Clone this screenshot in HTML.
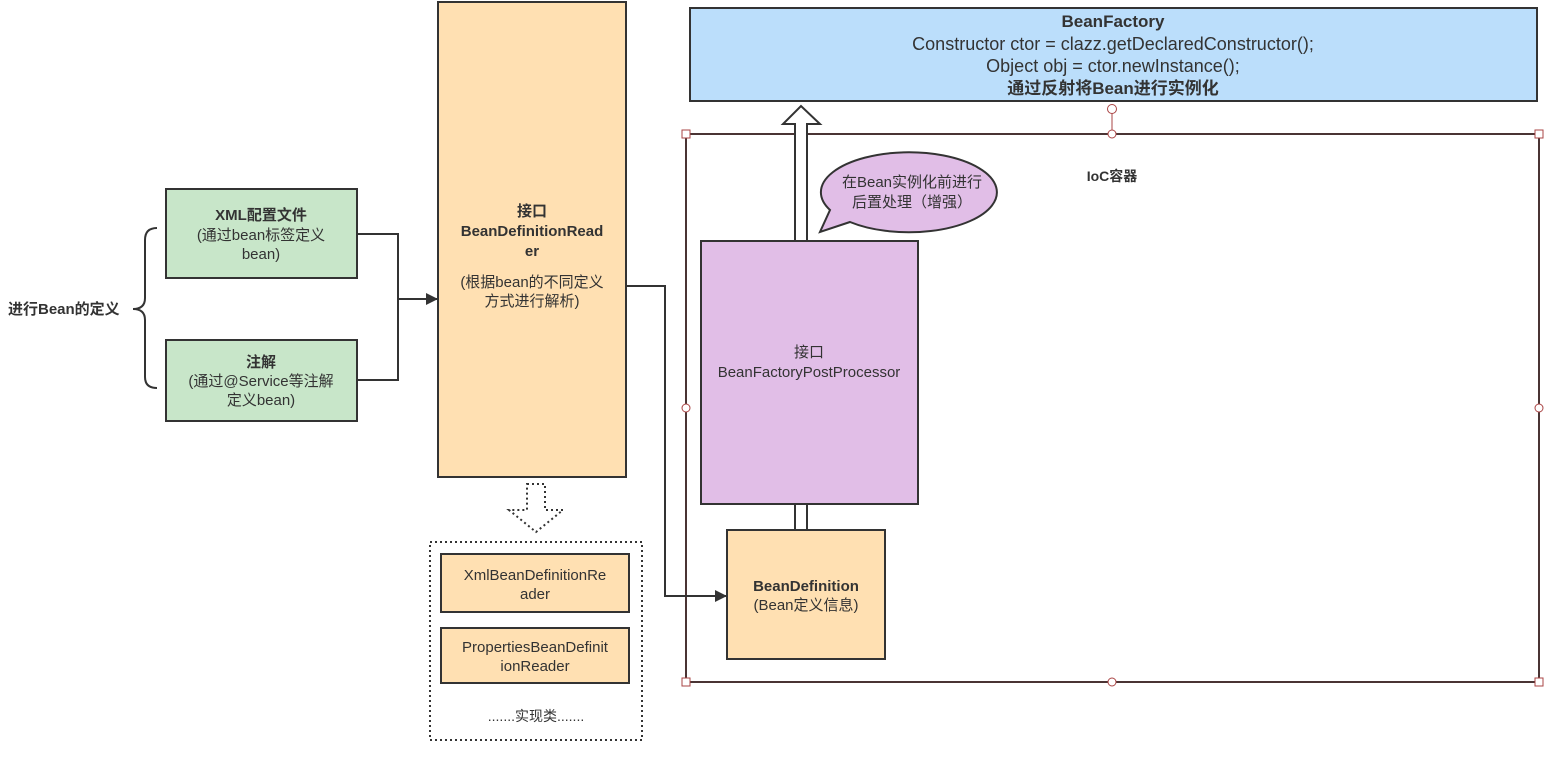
<!DOCTYPE html>
<html><head><meta charset="utf-8"><style>
html,body{margin:0;padding:0;background:#fff;}
svg text{font-family:"Liberation Sans","Noto Sans CJK SC",sans-serif;fill:#333;}
</style></head><body>
<svg width="1553" height="759" viewBox="0 0 1553 759" xmlns="http://www.w3.org/2000/svg">
<defs><marker id="ah" markerWidth="12" markerHeight="12" refX="11" refY="6" orient="auto" markerUnits="userSpaceOnUse"><path d="M0,0 L12,6 L0,12 Z" fill="#333"/></marker></defs>

<rect x="690" y="8" width="847" height="93" fill="#bbdefb" stroke="#333" stroke-width="2"/>
<text x="1113" y="27" text-anchor="middle" font-size="17" font-weight="bold">BeanFactory</text>
<text x="1113" y="50" text-anchor="middle" font-size="18">Constructor ctor = clazz.getDeclaredConstructor();</text>
<text x="1113" y="72" text-anchor="middle" font-size="18">Object obj = ctor.newInstance();</text>
<text x="1113" y="94" text-anchor="middle" font-size="17" font-weight="bold">通过反射将Bean进行实例化</text>

<rect x="686" y="134" width="853" height="548" fill="none" stroke="#4a3434" stroke-width="2"/>
<line x1="1112" y1="112" x2="1112" y2="134" stroke="#a44" stroke-width="1"/>
<circle cx="1112" cy="109" r="4.5" fill="#fff" stroke="#a44"/>
<g fill="#fff" stroke="#a44" stroke-width="1">
<rect x="682" y="130" width="8" height="8"/><rect x="1535" y="130" width="8" height="8"/>
<rect x="682" y="678" width="8" height="8"/><rect x="1535" y="678" width="8" height="8"/>
<circle cx="1112" cy="134" r="4"/><circle cx="1112" cy="682" r="4"/>
<circle cx="686" cy="408" r="4"/><circle cx="1539" cy="408" r="4"/>
</g>
<text x="1112" y="181" text-anchor="middle" font-size="14" font-weight="bold">IoC容器</text>

<path d="M795,241 L795,124 L783,124 L801,106 L820,124 L807,124 L807,241" fill="#fff" stroke="#333" stroke-width="2"/>
<rect x="795" y="504" width="12" height="26" fill="#fff" stroke="#333" stroke-width="2"/>

<path d="M850,222 A88,40 0 1,0 830,210 L820,232 Z" fill="#e1bee7" stroke="#333" stroke-width="2"/>
<text x="912" y="187" text-anchor="middle" font-size="15">在Bean实例化前进行</text>
<text x="912" y="207" text-anchor="middle" font-size="15">后置处理（增强）</text>

<rect x="701" y="241" width="217" height="263" fill="#e1bee7" stroke="#333" stroke-width="2"/>
<text x="809" y="357" text-anchor="middle" font-size="15">接口</text>
<text x="809" y="377" text-anchor="middle" font-size="15">BeanFactoryPostProcessor</text>

<rect x="727" y="530" width="158" height="129" fill="#ffe0b2" stroke="#333" stroke-width="2"/>
<text x="806" y="591" text-anchor="middle" font-size="15" font-weight="bold">BeanDefinition</text>
<text x="806" y="610" text-anchor="middle" font-size="15">(Bean定义信息)</text>

<rect x="438" y="2" width="188" height="475" fill="#ffe0b2" stroke="#333" stroke-width="2"/>
<text x="532" y="216" text-anchor="middle" font-size="15" font-weight="bold">接口</text>
<text x="532" y="236" text-anchor="middle" font-size="15" font-weight="bold">BeanDefinitionRead</text>
<text x="532" y="256" text-anchor="middle" font-size="15" font-weight="bold">er</text>
<text x="532" y="287" text-anchor="middle" font-size="15">(根据bean的不同定义</text>
<text x="532" y="306" text-anchor="middle" font-size="15">方式进行解析)</text>

<rect x="166" y="189" width="191" height="89" fill="#c8e6c9" stroke="#333" stroke-width="2"/>
<text x="261" y="220" text-anchor="middle" font-size="15" font-weight="bold">XML配置文件</text>
<text x="261" y="240" text-anchor="middle" font-size="15">(通过bean标签定义</text>
<text x="261" y="259" text-anchor="middle" font-size="15">bean)</text>
<rect x="166" y="340" width="191" height="81" fill="#c8e6c9" stroke="#333" stroke-width="2"/>
<text x="261" y="367" text-anchor="middle" font-size="15" font-weight="bold">注解</text>
<text x="261" y="386" text-anchor="middle" font-size="15">(通过@Service等注解</text>
<text x="261" y="405" text-anchor="middle" font-size="15">定义bean)</text>

<path d="M157,228 Q145,228 145,240 L145,298 Q145,309 133,309 Q145,309 145,320 L145,377 Q145,388 157,388" fill="none" stroke="#333" stroke-width="2"/>
<text x="8" y="314" font-size="15" font-weight="bold">进行Bean的定义</text>

<path d="M357,234 L398,234 L398,380 L357,380" fill="none" stroke="#333" stroke-width="2"/>
<line x1="398" y1="299" x2="437" y2="299" stroke="#333" stroke-width="2" marker-end="url(#ah)"/>
<path d="M626,286 L665,286 L665,596 L726,596" fill="none" stroke="#333" stroke-width="2" marker-end="url(#ah)"/>

<path d="M527,484 L545,484 L545,510 L563,510 L536,532 L509,510 L527,510 Z" fill="none" stroke="#333" stroke-width="2" stroke-dasharray="2,3"/>
<rect x="430" y="542" width="212" height="198" fill="none" stroke="#333" stroke-width="2" stroke-dasharray="2,3"/>
<rect x="441" y="554" width="188" height="58" fill="#ffe0b2" stroke="#333" stroke-width="2"/>
<text x="535" y="580" text-anchor="middle" font-size="15">XmlBeanDefinitionRe</text>
<text x="535" y="599" text-anchor="middle" font-size="15">ader</text>
<rect x="441" y="628" width="188" height="55" fill="#ffe0b2" stroke="#333" stroke-width="2"/>
<text x="535" y="652" text-anchor="middle" font-size="15">PropertiesBeanDefinit</text>
<text x="535" y="671" text-anchor="middle" font-size="15">ionReader</text>
<text x="536" y="721" text-anchor="middle" font-size="14">.......实现类.......</text>
</svg>
</body></html>
